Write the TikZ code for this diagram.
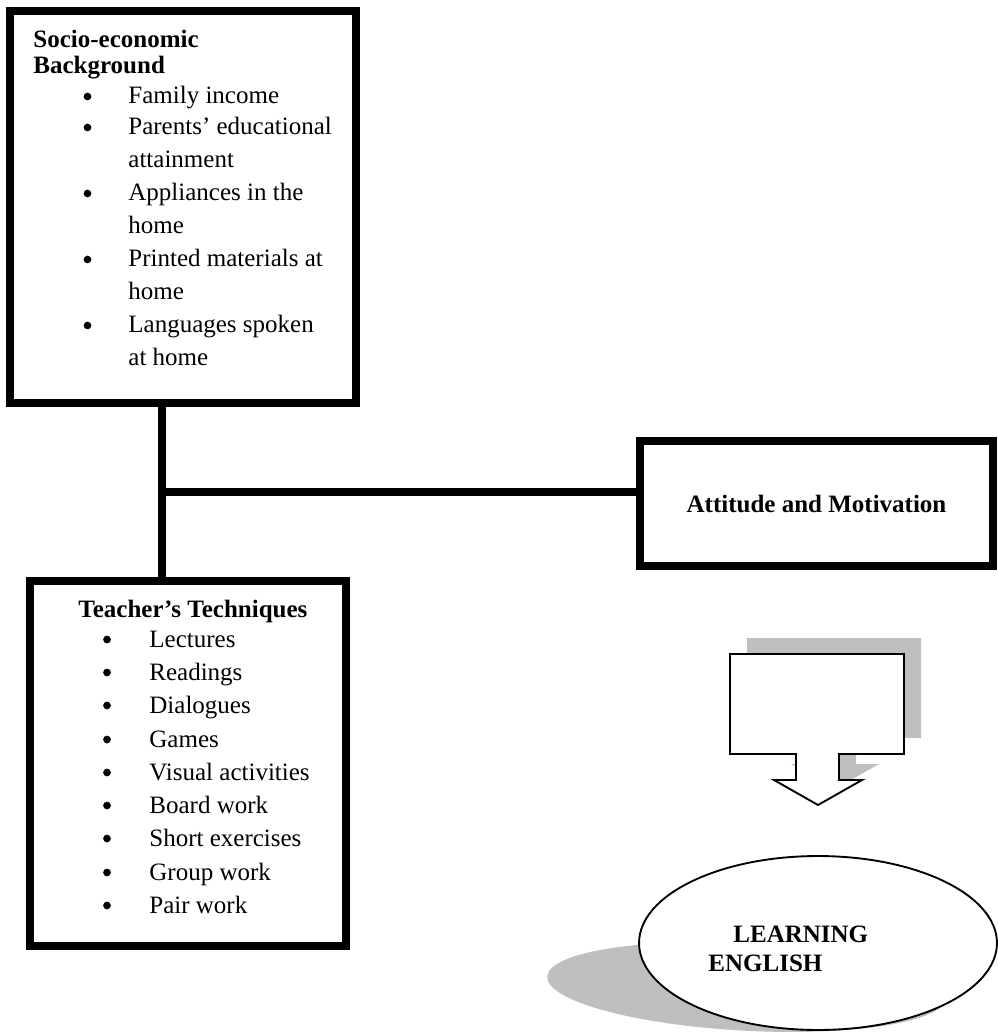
\documentclass[tikz,border=0pt]{standalone}
\usepackage{fontspec}
\setmainfont{Liberation Serif}
\usetikzlibrary{shapes.geometric}
\newcommand{\bodysize}{\fontsize{12pt}{14pt}\selectfont}
\def\socioHead{{48/Socio-economic}, {74/Background}}
\def\socioItems{{104/1/Family income}, {135/1/Parents' educational}, {168/0/attainment}, {201/1/Appliances in the}, {234/0/home}, {267/1/Printed materials at}, {300/0/home}, {333/1/Languages spoken}, {366/0/at home}}
\def\teachItems{{647/Lectures}, {680/Readings}, {713/Dialogues}, {747/Games}, {780/Visual activities}, {813/Board work}, {846/Short exercises}, {880/Group work}, {913/Pair work}}
\def\arrowpath{(730,654) -- (904,654) -- (904,754) -- (839,754) -- (839,780) -- (862,780) -- (818,805) -- (774,780) -- (796,780) -- (796,754) -- (730,754) -- cycle}
\tikzstyle{boxframe} = [draw, line width=3.84pt, inner sep=0pt]
\tikzstyle{link} = [draw, line width=3.84pt, -]
\tikzstyle{itemtext} = [anchor=base west, inner sep=0pt, font=\bodysize]
\tikzstyle{headtext} = [anchor=base west, inner sep=0pt, font=\bodysize\bfseries]
\tikzstyle{bulletmark} = [circle, fill, inner sep=0pt, minimum size=3.7pt]
\tikzstyle{shadowfill} = [fill=black!25, draw=none]
\tikzstyle{arrowbody} = [draw, fill=white, line width=0.9pt, line join=miter]
\tikzstyle{learnoval} = [ellipse, draw, fill=white, line width=0.9pt, inner sep=0pt]

\begin{document}
\begin{tikzpicture}[x=0.48pt, y=-0.48pt, font=\bodysize]
  \useasboundingbox (0,0) rectangle (997,1032);

  % The three boxes
  \node[boxframe, minimum width=166.3pt, minimum height=188.2pt] (socio) at (182.75,207) {};
  \node[boxframe, minimum width=151.9pt, minimum height=175.2pt] (teach) at (187.75,763.5) {};
  \node[boxframe, minimum width=169.4pt, minimum height=60pt, font=\bodysize\bfseries] (att) at (816.5,503.5) {Attitude and Motivation};

  % The lines between them
  \coordinate (junction) at (162,492);
  \path[link] (junction |- socio.south) -- (junction |- teach.north);
  \path[link] (junction) -- (junction -| att.west);

  % Socio-economic background
  \foreach \y/\txt [count=\i] in \socioHead
    \node[headtext] (sh\i) at (33,\y) {\txt};
  \foreach \y/\b/\txt [count=\i] in \socioItems {
    \node[itemtext] (si\i) at (128,\y) {\txt};
    \ifnum\b=1 \node[bulletmark] (sd\i) at (87.5,\y-7.5) {}; \fi
  }

  % Teacher's techniques
  \node[headtext] (th) at (78,617) {Teacher's Techniques};
  \foreach \y/\txt [count=\i] in \teachItems {
    \node[bulletmark] (td\i) at (107,\y-7.5) {};
    \node[itemtext] (ti\i) at (149,\y) {\txt};
  }

  % The block arrow, shadow first
  \fill[shadowfill, shift={(17,-16)}] \arrowpath;
  \path[arrowbody] \arrowpath;

  % Learning English, shadow first
  \fill[shadowfill, rotate around={-3:(747,987)}] (747,987) ellipse [x radius=96pt, y radius=21pt];
  \node[learnoval, minimum width=171.8pt, minimum height=83.5pt] (learn) at (818,943) {};
  \node[headtext] (l1) at (733,942) {LEARNING};
  \node[headtext] (l2) at (708,971) {ENGLISH};

\end{tikzpicture}
\end{document}
